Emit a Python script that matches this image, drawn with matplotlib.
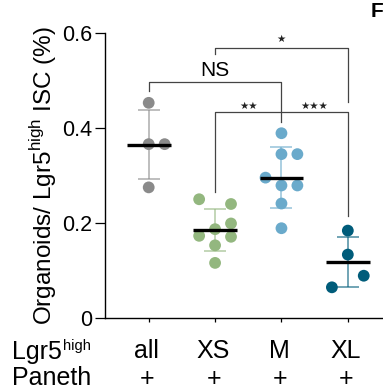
import numpy as np
import matplotlib.pyplot as plt
from matplotlib import transforms

plt.rcParams['font.family'] = ['Liberation Sans', 'DejaVu Sans']

groups = ['all', 'XS', 'M', 'XL']
paneth = ['+', '+', '+', '+']
colors = ['#8a8a8a', '#93b77f', '#6aaacb', '#005c7a']

vals_all = [0.453, 0.366, 0.366, 0.275]
vals_xs = [0.250, 0.240, 0.199, 0.187, 0.173, 0.171, 0.153, 0.116]
vals_m = [0.389, 0.345, 0.345, 0.2955, 0.279, 0.279, 0.241, 0.189]
vals_xl = [0.184, 0.1335, 0.089, 0.0646]
# horizontal swarm slot of each point (-1 left, 0 centre, 1 right)
slot_all = [0, 0, 1, 0]
slot_xs = [-1, 1, 1, 0, -1, 1, 0, 0]
slot_m = [0, 0, 1, -1, 0, 1, 0, 0]
slot_xl = [0, 0, 1, -1]

data = [vals_all, vals_xs, vals_m, vals_xl]
slots = [slot_all, slot_xs, slot_m, slot_xl]

# brackets: (x1, x2, bar y, left leg bottom, right leg bottom, label, label y, label x)
brackets = [
    (0, 2, 0.496, 0.4785, 0.413, 'NS', 0.521, 1.0),
    (1, 3, 0.569, 0.556, 0.455, '★', 0.587, 2.0),
]

W, H = 383, 392
fig = plt.figure(figsize=(W / 100, H / 100), dpi=100)
ax = fig.add_axes([104.7 / W, (H - 318) / H, (383 - 104.7) / W, 285 / H])

for i, (v, s, c) in enumerate(zip(data, slots, colors)):
    v = np.array(v)
    xs = i + 0.24 * np.array(s)
    m = v.mean()
    sd = v.std(ddof=1)
    ax.errorbar(i, m, yerr=sd, fmt='none', ecolor=c, alpha=0.6,
                elinewidth=1.3, capsize=8, capthick=1.3, zorder=2)
    ax.scatter(xs, v, s=72, color=c, edgecolor='none', zorder=3)
    ax.plot([i - 0.33, i + 0.33], [m, m], color='black', lw=2.4, zorder=4,
            solid_capstyle='butt')

bc = '#444444'
for x1, x2, yb, l1, l2, lab, ly, lx in brackets:
    ax.plot([x1, x1, x2, x2], [l1, yb, yb, l2], color=bc, lw=0.9,
            clip_on=False)
    if lab == 'NS':
        ax.text(lx, ly, lab, ha='center', va='center', fontsize=15)
    else:
        ax.text(lx, ly, lab, ha='center', va='center', fontsize=7.5,
                family='DejaVu Sans', color='#222222')

# shared ** / *** bracket
ax.plot([1, 1, 3, 3], [0.2646, 0.4337, 0.4337, 0.2147], color=bc, lw=0.9)
ax.text(1.5, 0.447, '★★', ha='center', va='center', fontsize=7.5,
        family='DejaVu Sans', color='#222222')
ax.text(2.5, 0.447, '★★★', ha='center', va='center', fontsize=7.5,
        family='DejaVu Sans', color='#222222')

ax.set_xlim(-0.663, 3.53)
ax.set_ylim(0, 0.6)
ax.set_yticks([0, 0.2, 0.4, 0.6])
ax.set_yticklabels(['0', '0.2', '0.4', '0.6'])
ax.set_xticks(range(4))
ax.set_xticklabels([])
ax.tick_params(axis='y', length=7, width=0.9, labelsize=15.5, pad=2)
ax.tick_params(axis='x', length=3, width=0.9)
for sp in ['top', 'right']:
    ax.spines[sp].set_visible(False)
for sp in ['left', 'bottom']:
    ax.spines[sp].set_linewidth(1.0)

ax.set_ylabel('Organoids/ Lgr5$^{\\mathregular{high}}$ ISC (%)',
              fontsize=17.5, labelpad=2)

trans = transforms.blended_transform_factory(ax.transData, fig.transFigure)
for i in range(4):
    ax.text(i - 0.03, (H - 358.5) / H, groups[i], transform=trans,
            ha='center', va='baseline', fontsize=18)
    ax.text(i - 0.02, (H - 379) / H, paneth[i], transform=trans,
            ha='center', va='center', fontsize=18)

fig.text(12 / W, (H - 358.5) / H, 'Lgr5', ha='left', va='baseline',
         fontsize=18)
fig.text(63 / W, (H - 350) / H, 'high', ha='left', va='baseline',
         fontsize=10.5)
fig.text(12 / W, (H - 385) / H, 'Paneth', ha='left', va='baseline',
         fontsize=18)
fig.text(371 / W, (H - 2) / H, 'F', ha='left', va='top', fontsize=15,
         fontweight='bold')

fig.savefig('out.png', dpi=100)
